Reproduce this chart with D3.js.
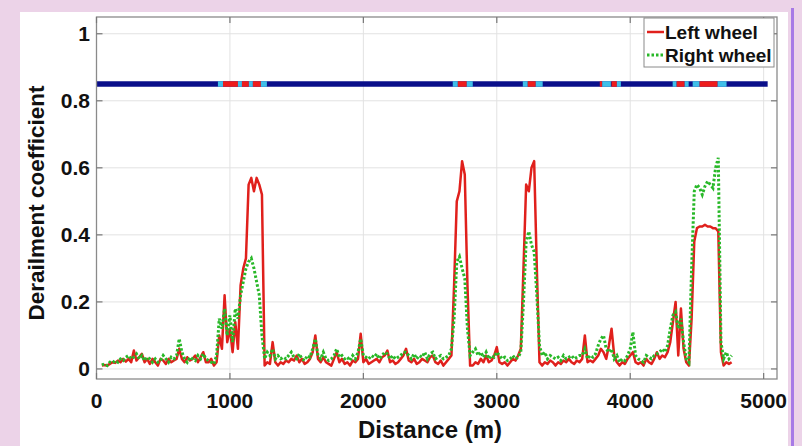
<!DOCTYPE html>
<html><head><meta charset="utf-8">
<script src="https://cdn.jsdelivr.net/npm/d3@7"></script>
<style>
html,body{margin:0;padding:0;background:#ecd3e8;overflow:hidden;}
svg{display:block;font-family:"Liberation Sans",Arial,sans-serif;}
</style></head><body>
<svg id="c" width="802" height="446"></svg>
<script>
// ---- data ----
const startDistance = 40, stepDistance = 20;
const leftWheel = [
0.01,0.012,0.01,0.015,0.02,0.018,0.025,0.02,0.03,0.022,
0.03,0.02,0.055,0.025,0.035,0.045,0.02,0.03,0.015,0.03,
0.02,0.01,0.03,0.025,0.015,0.03,0.02,0.025,0.03,0.06,
0.03,0.02,0.035,0.025,0.03,0.04,0.02,0.035,0.05,0.02,
0.02,0.03,0.01,0.02,0.1,0.06,0.22,0.08,0.12,0.05,
0.14,0.06,0.25,0.3,0.33,0.55,0.57,0.53,0.57,0.55,
0.52,0.01,0.02,0.015,0.08,0.02,0.01,0.02,0.015,0.025,
0.02,0.03,0.025,0.04,0.02,0.03,0.015,0.02,0.03,0.05,
0.1,0.03,0.02,0.035,0.02,0.015,0.01,0.03,0.05,0.02,
0.03,0.015,0.02,0.01,0.025,0.02,0.03,0.105,0.02,0.03,
0.015,0.02,0.025,0.03,0.02,0.035,0.04,0.055,0.02,0.025,
0.015,0.02,0.03,0.04,0.06,0.025,0.02,0.03,0.015,0.02,
0.03,0.025,0.02,0.035,0.04,0.02,0.015,0.025,0.01,0.02,
0.03,0.04,0.25,0.5,0.53,0.62,0.58,0.25,0.01,0.01,
0.02,0.015,0.03,0.02,0.04,0.02,0.025,0.04,0.065,0.02,
0.015,0.02,0.01,0.02,0.03,0.025,0.04,0.06,0.3,0.55,
0.53,0.6,0.62,0.3,0.02,0.01,0.02,0.015,0.025,0.02,
0.01,0.02,0.015,0.025,0.02,0.03,0.02,0.015,0.025,0.02,
0.03,0.1,0.02,0.025,0.02,0.03,0.04,0.06,0.05,0.03,
0.07,0.12,0.04,0.02,0.01,0.02,0.015,0.03,0.04,0.05,
0.02,0.015,0.02,0.01,0.03,0.02,0.015,0.03,0.05,0.03,
0.04,0.035,0.05,0.08,0.14,0.2,0.04,0.18,0.06,0.02,
0.01,0.15,0.38,0.42,0.425,0.425,0.43,0.425,0.425,0.42,
0.42,0.41,0.05,0.01,0.02,0.015,0.02];
const rightWheel = [
0.012,0.015,0.01,0.02,0.018,0.025,0.02,0.03,0.025,0.035,
0.04,0.03,0.035,0.045,0.03,0.04,0.025,0.035,0.03,0.02,
0.03,0.02,0.025,0.04,0.03,0.02,0.035,0.03,0.04,0.09,
0.05,0.03,0.02,0.035,0.03,0.025,0.04,0.03,0.045,0.03,
0.025,0.02,0.015,0.04,0.15,0.12,0.18,0.1,0.16,0.08,
0.18,0.15,0.22,0.26,0.3,0.32,0.33,0.3,0.26,0.22,
0.1,0.03,0.05,0.04,0.06,0.03,0.04,0.03,0.035,0.03,
0.04,0.05,0.035,0.03,0.045,0.03,0.025,0.04,0.035,0.06,
0.09,0.04,0.03,0.05,0.03,0.025,0.03,0.04,0.06,0.035,
0.04,0.03,0.035,0.025,0.04,0.03,0.05,0.09,0.04,0.035,
0.03,0.04,0.035,0.045,0.03,0.04,0.05,0.045,0.03,0.04,
0.03,0.035,0.04,0.05,0.05,0.04,0.03,0.045,0.03,0.04,
0.035,0.05,0.03,0.045,0.05,0.03,0.035,0.04,0.03,0.035,
0.04,0.06,0.15,0.32,0.335,0.3,0.27,0.12,0.04,0.05,
0.06,0.04,0.05,0.035,0.05,0.03,0.04,0.035,0.05,0.04,
0.03,0.035,0.025,0.03,0.04,0.03,0.035,0.05,0.2,0.38,
0.41,0.37,0.35,0.22,0.07,0.04,0.05,0.03,0.04,0.035,
0.03,0.035,0.025,0.04,0.03,0.035,0.04,0.03,0.035,0.04,
0.04,0.06,0.03,0.04,0.035,0.045,0.07,0.09,0.1,0.06,
0.05,0.06,0.03,0.04,0.02,0.03,0.025,0.04,0.06,0.11,
0.04,0.03,0.025,0.02,0.04,0.035,0.03,0.04,0.045,0.05,
0.06,0.05,0.07,0.12,0.16,0.17,0.12,0.15,0.08,0.03,
0.02,0.3,0.53,0.55,0.54,0.52,0.545,0.56,0.55,0.54,
0.6,0.63,0.08,0.03,0.05,0.03,0.04];
const xTicks = [0, 1000, 2000, 3000, 4000, 5000];
const yTicks = [0, 0.2, 0.4, 0.6, 0.8, 1];
const yTickLabels = ["0", "0.2", "0.4", "0.6", "0.8", "1"];
const seriesNames = ["Left wheel", "Right wheel"];
// indicator strip at 0.85: base (safe) and warning zones
const indicatorLevel = 0.85, indicatorStart = 0, indicatorEnd = 5030;
const zoneStart = [910, 948,1060,1090,1142,1172,1232, 2670,2708,2775, 3195,3232,3292, 3772,3790,3860,3900, 4318,4348,4408, 4468,4520,4655];
const zoneEnd   = [948,1060,1090,1142,1172,1232,1277, 2708,2775,2820, 3232,3292,3344, 3790,3855,3900,3930, 4348,4408,4438, 4520,4655,4722];
const zoneLevel = ["warn","alarm","warn","alarm","warn","alarm","warn", "warn","alarm","warn", "warn","alarm","warn", "alarm","warn","alarm","warn", "warn","alarm","warn", "warn","alarm","warn"];

// ---- drawing ----
const svg = d3.select("#c");
svg.append("rect").attr("x", 20).attr("y", 12).attr("width", 768).attr("height", 434).attr("fill", "#fff");
svg.append("rect").attr("x", 791).attr("y", 8).attr("width", 3).attr("height", 438).attr("fill", "#a77ae6");

const x = d3.scaleLinear().domain([0, 5100]).range([96.5, 777]);
const y = d3.scaleLinear().domain([-0.03, 1.05]).range([379, 17]);
const L = x.range()[0], R = x.range()[1], T = y.range()[1], B = y.range()[0];

svg.append("clipPath").attr("id", "clip").append("rect")
  .attr("x", L).attr("y", T).attr("width", R - L).attr("height", B - T);

// grid
const grid = svg.append("g").attr("stroke", "#e2e2e2").attr("stroke-width", 1);
grid.selectAll(".gx").data(xTicks).join("line")
  .attr("x1", d => x(d)).attr("x2", d => x(d)).attr("y1", T).attr("y2", B);
grid.selectAll(".gy").data(yTicks).join("line")
  .attr("x1", L).attr("x2", R).attr("y1", d => y(d)).attr("y2", d => y(d));

// indicator strip
const plot = svg.append("g").attr("clip-path", "url(#clip)");
plot.append("line").attr("x1", x(indicatorStart)).attr("x2", x(indicatorEnd))
  .attr("y1", y(indicatorLevel)).attr("y2", y(indicatorLevel))
  .attr("stroke", "#0a0f8a").attr("stroke-width", 5.5);
const zoneColor = {warn: "#3fbfe8", alarm: "#ee1c1c"};
plot.selectAll(".zone").data(zoneStart.map((s, i) => ({s, e: zoneEnd[i], l: zoneLevel[i]})))
  .join("line")
  .attr("x1", d => x(d.s)).attr("x2", d => x(d.e))
  .attr("y1", y(indicatorLevel)).attr("y2", y(indicatorLevel))
  .attr("stroke", d => zoneColor[d.l]).attr("stroke-width", 5.5);

// series
const dist = i => startDistance + i * stepDistance;
const line = d3.line().x((d, i) => x(dist(i))).y(d => y(d));
plot.append("path").datum(leftWheel).attr("d", line)
  .attr("fill", "none").attr("stroke", "#e0201c").attr("stroke-width", 2.5).attr("stroke-linejoin", "round");
plot.append("path").datum(rightWheel).attr("d", line)
  .attr("fill", "none").attr("stroke", "#28b828").attr("stroke-width", 3)
  .attr("stroke-dasharray", "2.5,2");

// axes box
svg.append("rect").attr("x", L).attr("y", T).attr("width", R - L).attr("height", B - T)
  .attr("fill", "none").attr("stroke", "#8a8a8a").attr("stroke-width", 1.3);
const ticks = svg.append("g").attr("stroke", "#777").attr("stroke-width", 1.2);
ticks.selectAll(".tx").data(xTicks).join("g").each(function(d) {
  const g = d3.select(this);
  g.append("line").attr("x1", x(d)).attr("x2", x(d)).attr("y1", B).attr("y2", B - 6);
  g.append("line").attr("x1", x(d)).attr("x2", x(d)).attr("y1", T).attr("y2", T + 6);
});
ticks.selectAll(".ty").data(yTicks).join("g").each(function(d) {
  const g = d3.select(this);
  g.append("line").attr("x1", L).attr("x2", L + 6).attr("y1", y(d)).attr("y2", y(d));
  g.append("line").attr("x1", R).attr("x2", R - 6).attr("y1", y(d)).attr("y2", y(d));
});

// tick labels
svg.selectAll(".xl").data(xTicks).join("text")
  .attr("x", d => x(d)).attr("y", 408).attr("text-anchor", "middle")
  .attr("font-size", 21).attr("font-weight", "bold").attr("fill", "#111").text(d => d);
svg.selectAll(".yl").data(yTicks).join("text")
  .attr("x", 90).attr("y", d => y(d) + 7.5).attr("text-anchor", "end")
  .attr("font-size", 21).attr("font-weight", "bold").attr("fill", "#111").text((d, i) => yTickLabels[i]);

// axis titles
svg.append("text").attr("x", 430).attr("y", 438).attr("text-anchor", "middle")
  .attr("font-size", 24).attr("font-weight", "bold").attr("fill", "#111").text("Distance (m)");
svg.append("text").attr("transform", "translate(44,203) rotate(-90)").attr("text-anchor", "middle")
  .attr("font-size", 22.5).attr("font-weight", "bold").attr("fill", "#111").text("Derailment coefficient");

// legend
const lg = svg.append("g");
lg.append("rect").attr("x", 644).attr("y", 18).attr("width", 130).attr("height", 49)
  .attr("fill", "#fff").attr("stroke", "#8a8a8a").attr("stroke-width", 1);
const legendStyle = [{c: "#e0201c", w: 2.5, dash: null}, {c: "#28b828", w: 3, dash: "2.5,2"}];
seriesNames.forEach((n, i) => {
  const cy = 32 + i * 23;
  lg.append("line").attr("x1", 647).attr("x2", 664).attr("y1", cy).attr("y2", cy)
    .attr("stroke", legendStyle[i].c).attr("stroke-width", legendStyle[i].w)
    .attr("stroke-dasharray", legendStyle[i].dash);
  lg.append("text").attr("x", 665).attr("y", cy + 6.5).attr("font-size", 19)
    .attr("font-weight", "bold").attr("fill", "#111").text(n);
});
</script>
</body></html>
